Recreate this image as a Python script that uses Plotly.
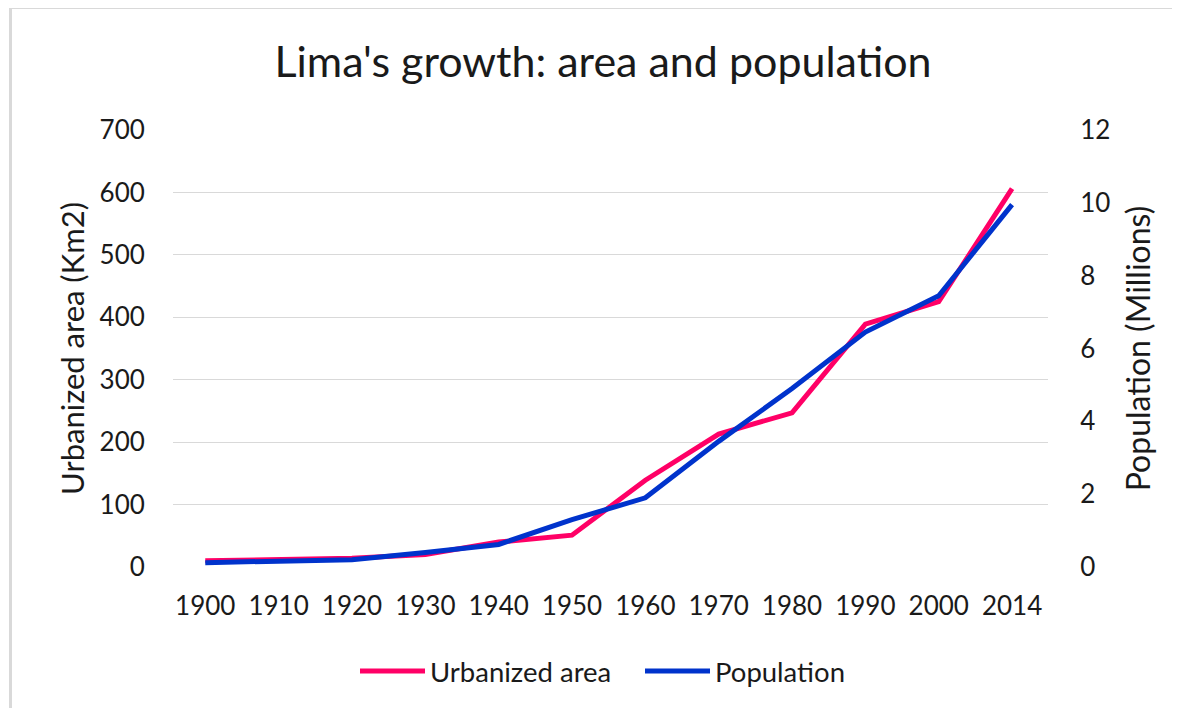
import plotly.graph_objects as go

# Data
years = ["1900", "1910", "1920", "1930", "1940", "1950",
         "1960", "1970", "1980", "1990", "2000", "2014"]
urban_area_km2 = [10, 11, 14, 20, 40, 51, 139, 213, 247, 389, 425, 606]
population_millions = [0.12, 0.16, 0.2, 0.4, 0.62, 1.3, 1.9, 3.45, 4.9, 6.45, 7.45, 9.95]

font_family = "Lato, 'Open Sans', sans-serif"
dark = "#1a1a1a"
grid_color = "#d9d9d9"

# The page body has an 8px margin, so the figure is laid out in page pixels minus 8
OFF = 8
W, H = 1180 - 2 * OFF, 716 - 2 * OFF

fig = go.Figure()

# Urbanized area on the left axis
fig.add_trace(go.Scatter(x=years, y=urban_area_km2, mode='lines', name="Urbanized area",
                         line=dict(color='#FF0066', width=5)))

# Population on the right axis
fig.add_trace(go.Scatter(x=years, y=population_millions, mode='lines', name="Population",
                         line=dict(color='#0033CC', width=5), yaxis='y2'))

# Plot area in page pixels: x 173..1048, y 130..567
L, T = 173 - OFF, 130 - OFF
R = W - (1048 - OFF)
B = H - (567 - OFF)
pw, ph = W - L - R, H - T - B

def px_x(x):
    return (x - OFF - L) / pw

def px_y(y):
    return (H - B - (y - OFF)) / ph

fig.update_layout(
    width=W, height=H,
    margin=dict(l=L, r=R, t=T, b=B),
    paper_bgcolor='white', plot_bgcolor='white',
    font=dict(family=font_family, color=dark, size=26),
    title=dict(text="Lima's growth: area and population", x=px_x(603), xanchor='center',
               xref='paper', y=1 - (62 - OFF) / H, yanchor='middle',
               font=dict(size=43, color=dark, family=font_family)),
    xaxis=dict(type='category', range=[-0.44, 11.49], showgrid=False, zeroline=False,
               showline=False, ticks='outside', ticklen=16, tickcolor='rgba(0,0,0,0)',
               tickfont=dict(size=26, color=dark)),
    yaxis=dict(range=[0, 700], dtick=100, showgrid=True, gridcolor=grid_color, gridwidth=1,
               zeroline=False, showline=False, ticks='outside', ticklen=22,
               tickcolor='rgba(0,0,0,0)', tickfont=dict(size=26, color=dark),
               title=dict(text="Urbanized area (Km2)", standoff=5,
                          font=dict(size=31, color=dark))),
    yaxis2=dict(range=[0, 12], dtick=2, overlaying='y', side='right', showgrid=False,
                zeroline=False, showline=False, ticks='outside', ticklen=26,
                tickcolor='rgba(0,0,0,0)', tickfont=dict(size=26, color=dark),
                title=dict(text="Population (Millions)", standoff=18,
                           font=dict(size=32, color=dark))),
    legend=dict(orientation='h', x=px_x(355), xanchor='left', y=px_y(671), yanchor='middle',
                itemwidth=65, entrywidth=205, entrywidthmode='pixels',
                font=dict(size=27.5, color=dark), traceorder='normal'),
    showlegend=True,
)

# Light grey frame on the top and left edges, as in the screenshot
fig.add_shape(type='line', xref='paper', yref='paper',
              x0=px_x(10.5), x1=px_x(1180), y0=px_y(7.5), y1=px_y(7.5),
              line=dict(color=grid_color, width=3))
fig.add_shape(type='line', xref='paper', yref='paper',
              x0=px_x(10.5), x1=px_x(10.5), y0=px_y(6), y1=px_y(716),
              line=dict(color=grid_color, width=3))

fig.write_html("out.html")
